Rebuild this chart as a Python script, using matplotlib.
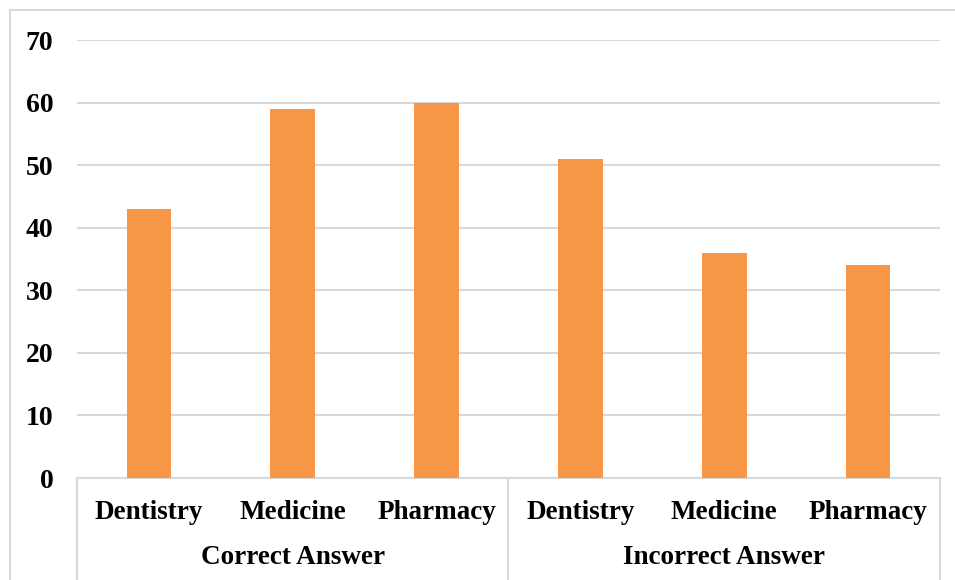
import matplotlib
matplotlib.use("Agg")
import matplotlib.pyplot as plt
from matplotlib.patches import Rectangle
from matplotlib.lines import Line2D

groups = ["Correct Answer", "Incorrect Answer"]
subjects = ["Dentistry", "Medicine", "Pharmacy"]
values = [43, 59, 60, 51, 36, 34]
y_ticks = [0, 10, 20, 30, 40, 50, 60, 70]

W, H = 955, 580
fig = plt.figure(figsize=(W / 100, H / 100), dpi=100)
plt.rcParams["font.family"] = ["Liberation Serif", "DejaVu Serif"]

left, right, bottom, top = 77, 940, 478, 40
ax = fig.add_axes([left / W, 1 - bottom / H, (right - left) / W, (bottom - top) / H])

n = len(values)
x = list(range(n))
ax.bar(x, values, width=0.31, color="#F79646", zorder=3)
ax.set_xlim(-0.5, n - 0.5)
ax.set_ylim(0, 70)
ax.set_yticks(y_ticks)
ax.set_yticklabels([str(t) for t in y_ticks], fontsize=20, fontweight="bold")
ax.tick_params(axis="y", length=0, pad=17)
ax.yaxis.grid(True, color="#D9D9D9", linewidth=1.5, zorder=0)
ax.set_axisbelow(True)

for s in ["left", "right", "top"]:
    ax.spines[s].set_visible(False)
ax.spines["bottom"].set_color("#D9D9D9")
ax.spines["bottom"].set_linewidth(1.5)

# Two-level category axis
ax.set_xticks(x)
ax.set_xticklabels(subjects * len(groups), fontsize=19.5, fontweight="bold")
ax.tick_params(axis="x", length=0, pad=16)

trans = ax.get_xaxis_transform()
group_y = -(558 - bottom) / (bottom - top)
for gi, g in enumerate(groups):
    cx = gi * len(subjects) + (len(subjects) - 1) / 2
    ax.text(cx, group_y, g, transform=trans, ha="center", va="center",
            fontsize=19.5, fontweight="bold")

sep_bottom = -(580 - bottom) / (bottom - top)
for k in range(len(groups) + 1):
    xs = k * len(subjects) - 0.5
    ax.add_line(Line2D([xs, xs], [0, sep_bottom], transform=trans,
                       color="#D9D9D9", linewidth=1.5, clip_on=False))

# Chart frame
fig.add_artist(Rectangle((10 / W, -0.05), 1.0, 1 - 10 / H + 0.05,
                         transform=fig.transFigure, fill=False,
                         edgecolor="#D9D9D9", linewidth=1.5))

fig.savefig("out.png", dpi=100)
